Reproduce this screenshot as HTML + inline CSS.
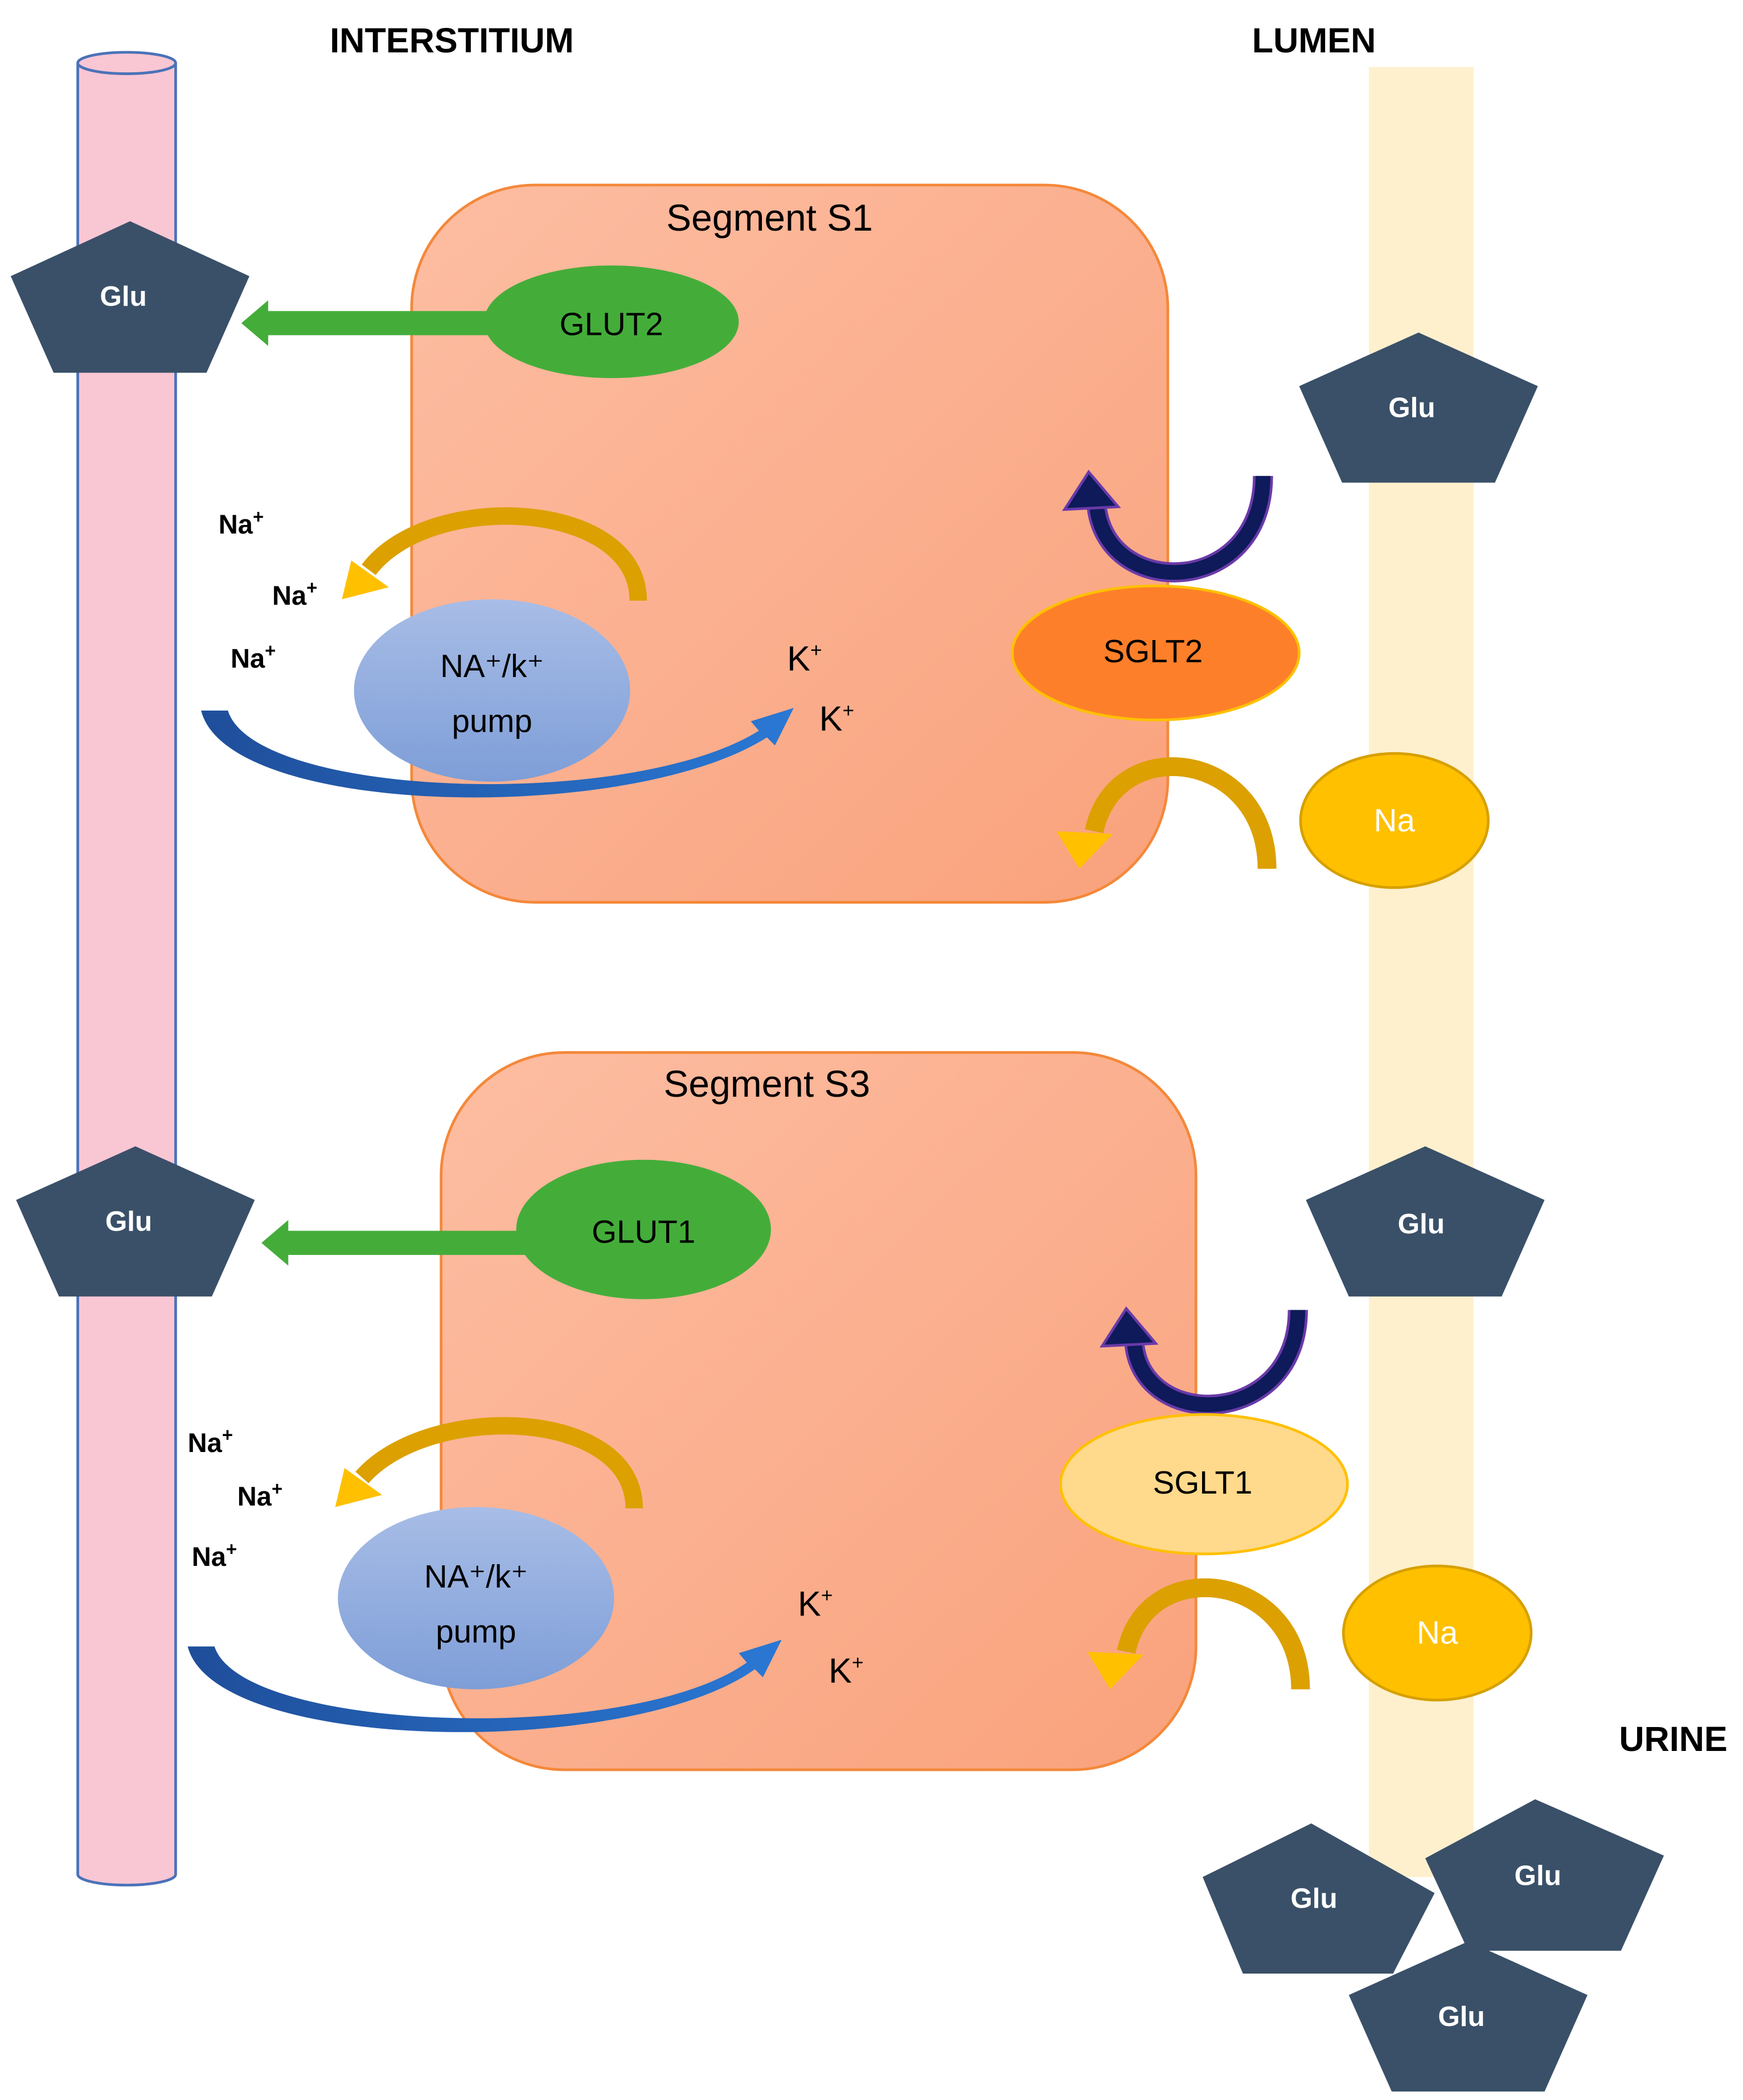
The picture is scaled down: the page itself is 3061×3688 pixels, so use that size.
<!DOCTYPE html>
<html><head><meta charset="utf-8"><style>
html,body{margin:0;padding:0;background:#fff}
svg{display:block}
text{font-family:"Liberation Sans",sans-serif}
</style></head><body>
<svg width="3061" height="3688" viewBox="0 0 1300 1566.3" preserveAspectRatio="none" xmlns="http://www.w3.org/2000/svg">
<defs>
<linearGradient id="seg" x1="0" y1="0" x2="1" y2="1"><stop offset="0" stop-color="#fdbda2"/><stop offset="1" stop-color="#f9a27c"/></linearGradient>
<linearGradient id="pump" x1="0" y1="0" x2="0" y2="1"><stop offset="0" stop-color="#a8bde6"/><stop offset="1" stop-color="#7e9ed8"/></linearGradient>
<linearGradient id="blu" x1="0" y1="0" x2="1" y2="0"><stop offset="0" stop-color="#1f4e9a"/><stop offset="1" stop-color="#2a78d4"/></linearGradient>
</defs>
<rect width="1300" height="1567" fill="#fff"/>
<!-- lumen band -->
<rect x="1021" y="50" width="78" height="1350" fill="#fef0cd"/>
<!-- tube -->
<path d="M58,47 L58,1398 A36.5,8 0 0 0 131,1398 L131,47" fill="#f9c6d4" stroke="#4a72b8" stroke-width="2"/>
<ellipse cx="94.5" cy="47" rx="36.5" ry="8" fill="#f9c6d4" stroke="#4a72b8" stroke-width="2"/>
<!-- headings -->
<text x="337" y="39" font-size="26" font-weight="bold" text-anchor="middle">INTERSTITIUM</text>
<text x="980" y="39" font-size="26" font-weight="bold" text-anchor="middle">LUMEN</text>
<text x="1248" y="1306" font-size="26" font-weight="bold" text-anchor="middle">URINE</text>
<!-- segments -->
<rect x="307" y="138" width="564" height="535" rx="92" fill="url(#seg)" stroke="#f4883a" stroke-width="2"/>
<rect x="329" y="785" width="563" height="535" rx="92" fill="url(#seg)" stroke="#f4883a" stroke-width="2"/>
<text x="574" y="172" font-size="28" text-anchor="middle">Segment S1</text>
<text x="572" y="818" font-size="28" text-anchor="middle">Segment S3</text>
<!-- pentagons -->
<g fill="#3a5068">
<polygon points="97,165 186,206 154,278 40,278 8,206"/>
<polygon points="101,855 190,895 158,967 44,967 12,895"/>
<polygon points="1058,248 1147,288 1115,360 1001,360 969,288"/>
<polygon points="1063,855 1152,895 1120,967 1006,967 974,895"/>
<polygon points="978,1360 1070,1412 1039,1472 927,1472 897,1400"/>
<polygon points="1145,1342 1241,1384 1209,1455 1095,1455 1063,1386"/>
<polygon points="1095,1448 1184,1488 1152,1560 1038,1560 1006,1488"/>
</g>
<g fill="#fff" font-size="21" font-weight="bold" text-anchor="middle">
<text x="92" y="228">Glu</text>
<text x="96" y="918">Glu</text>
<text x="1053" y="311">Glu</text>
<text x="1060" y="920">Glu</text>
<text x="980" y="1423">Glu</text>
<text x="1147" y="1406">Glu</text>
<text x="1090" y="1511">Glu</text>
</g>
<!-- green arrows -->
<g fill="#44ad3a">
<rect x="198" y="232" width="180" height="18"/>
<polygon points="180,241 200,224 200,258"/>
<rect x="213" y="918" width="190" height="18"/>
<polygon points="195,927 215,910 215,944"/>
<ellipse cx="456" cy="240" rx="95" ry="42"/>
<ellipse cx="480" cy="917" rx="95" ry="52"/>
</g>
<text x="456" y="250" font-size="24" text-anchor="middle">GLUT2</text>
<text x="480" y="927" font-size="24" text-anchor="middle">GLUT1</text>
<!-- S1 pump area -->
<path d="M476,448 C476,372 320,365 275,425" fill="none" stroke="#dca000" stroke-width="13"/>
<polygon points="255,447 262,418 290,438" fill="#ffc000"/>
<ellipse cx="367" cy="515" rx="103" ry="68" fill="url(#pump)"/>
<text x="367" y="505" font-size="24" text-anchor="middle">NA⁺/k⁺</text>
<text x="367" y="546" font-size="24" text-anchor="middle">pump</text>
<path d="M150,530 L170,530 C190,595 470,605 566,545 L560,538 L592,528 L578,556 L572,550 C470,615 170,610 150,530Z" fill="url(#blu)"/>
<g font-size="20" font-weight="bold">
<text x="163" y="398">Na<tspan font-size="14" dy="-8">+</tspan></text>
<text x="203" y="451">Na<tspan font-size="14" dy="-8">+</tspan></text>
<text x="172" y="498">Na<tspan font-size="14" dy="-8">+</tspan></text>
<text x="140" y="1083">Na<tspan font-size="14" dy="-8">+</tspan></text>
<text x="177" y="1123">Na<tspan font-size="14" dy="-8">+</tspan></text>
<text x="143" y="1168">Na<tspan font-size="14" dy="-8">+</tspan></text>
</g>
<g font-size="26">
<text x="587" y="500">K<tspan font-size="15" dy="-10">+</tspan></text>
<text x="611" y="545">K<tspan font-size="15" dy="-10">+</tspan></text>
<text x="595" y="1205">K<tspan font-size="15" dy="-10">+</tspan></text>
<text x="618" y="1255">K<tspan font-size="15" dy="-10">+</tspan></text>
</g>
<!-- S3 pump area -->
<path d="M473,1125 C473,1050 320,1045 270,1102" fill="none" stroke="#dca000" stroke-width="13"/>
<polygon points="250,1124 257,1095 285,1115" fill="#ffc000"/>
<ellipse cx="355" cy="1192" rx="103" ry="68" fill="url(#pump)"/>
<text x="355" y="1184" font-size="24" text-anchor="middle">NA⁺/k⁺</text>
<text x="355" y="1225" font-size="24" text-anchor="middle">pump</text>
<path d="M140,1228 L160,1228 C180,1292 470,1302 557,1240 L551,1233 L583,1223 L569,1251 L563,1245 C470,1312 160,1308 140,1228Z" fill="url(#blu)"/>
<!-- SGLT2 area -->
<path d="M942,355 C942,445 826,448 818,378" fill="none" stroke="#6a3aa8" stroke-width="15"/>
<path d="M942,355 C942,445 826,448 818,378" fill="none" stroke="#0e1a5a" stroke-width="11"/>
<polygon points="812,352 794,380 834,378" fill="#0e1a5a" stroke="#6a3aa8" stroke-width="2"/>
<ellipse cx="862" cy="487" rx="107" ry="50" fill="#fe7f2a" stroke="#ffc000" stroke-width="2"/>
<text x="860" y="494" font-size="24" text-anchor="middle">SGLT2</text>
<path d="M945,648 C945,560 832,545 816,620" fill="none" stroke="#dca000" stroke-width="14"/>
<polygon points="805,648 788,620 830,622" fill="#ffc000"/>
<ellipse cx="1040" cy="612" rx="70" ry="50" fill="#ffc000" stroke="#d6a000" stroke-width="2"/>
<text x="1040" y="620" font-size="24" fill="#fff" text-anchor="middle">Na</text>
<!-- SGLT1 area -->
<path d="M968,977 C968,1065 852,1068 846,1002" fill="none" stroke="#6a3aa8" stroke-width="15"/>
<path d="M968,977 C968,1065 852,1068 846,1002" fill="none" stroke="#0e1a5a" stroke-width="11"/>
<polygon points="840,976 822,1004 862,1002" fill="#0e1a5a" stroke="#6a3aa8" stroke-width="2"/>
<ellipse cx="898" cy="1107" rx="107" ry="52" fill="#ffd98c" stroke="#ffc000" stroke-width="2"/>
<text x="897" y="1114" font-size="24" text-anchor="middle">SGLT1</text>
<path d="M970,1260 C970,1172 855,1158 840,1232" fill="none" stroke="#dca000" stroke-width="14"/>
<polygon points="828,1260 811,1232 853,1234" fill="#ffc000"/>
<ellipse cx="1072" cy="1218" rx="70" ry="50" fill="#ffc000" stroke="#d6a000" stroke-width="2"/>
<text x="1072" y="1226" font-size="24" fill="#fff" text-anchor="middle">Na</text>
</svg>
</body></html>
